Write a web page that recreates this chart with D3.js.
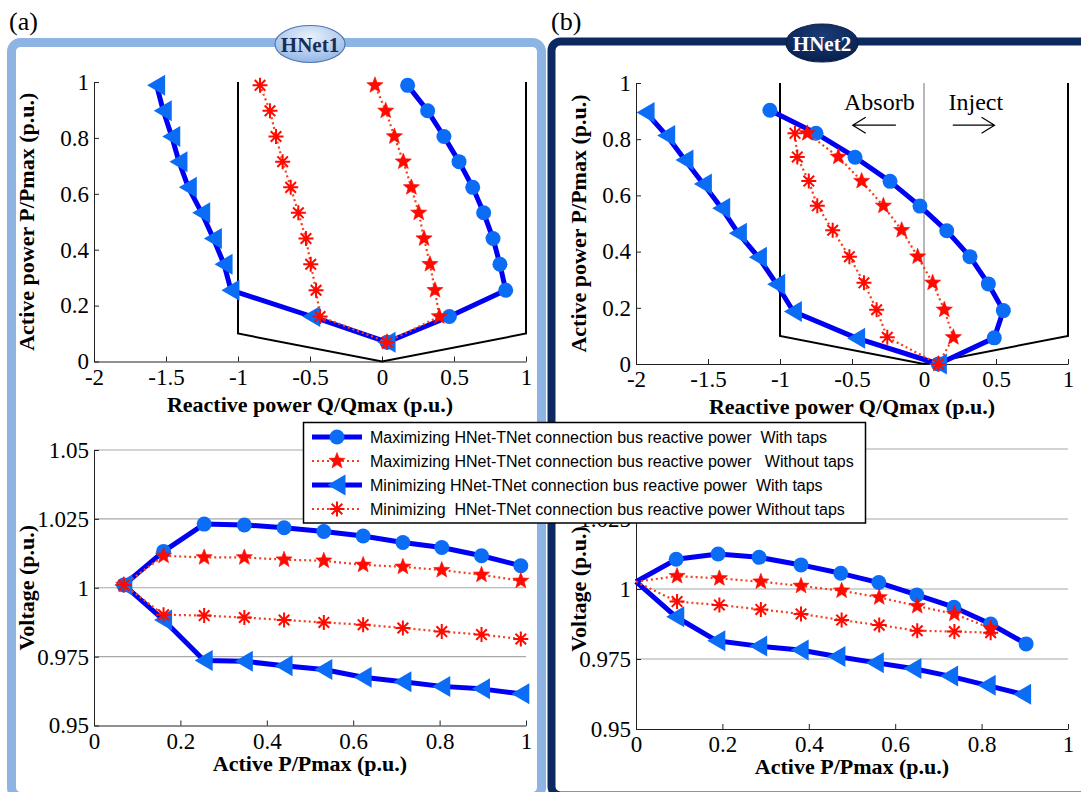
<!DOCTYPE html>
<html>
<head>
<meta charset="utf-8">
<script src="https://cdn.jsdelivr.net/npm/d3@7"></script>
<style>
  body { margin: 0; background: #fff; }
  svg { display: block; }
</style>
</head>
<body>
<svg id="chart" width="1081" height="792"></svg>
<script>
// ---- tick values ----
const qTicks = [-2, -1.5, -1, -0.5, 0, 0.5, 1];
const pTicks = [0, 0.2, 0.4, 0.6, 0.8, 1];
const vTicks = [0.95, 0.975, 1, 1.025, 1.05];

// ---- operating limit boundary (Q, P) ----
const boundQ = [-1, -1, 0, 1, 1];
const boundP = [1, 0.1, 0, 0.1, 1];

// ---- HNet1 ----
const p1 = [0.069, 0.161, 0.255, 0.348, 0.44, 0.532, 0.623, 0.715, 0.805, 0.897, 0.988];
const qMaxTap1 = [0.035, 0.468, 0.859, 0.819, 0.771, 0.706, 0.63, 0.535, 0.43, 0.317, 0.178];
const qMaxNoTap1 = [0.035, 0.398, 0.368, 0.333, 0.292, 0.255, 0.204, 0.148, 0.086, 0.026, -0.049];
const qMinTap1 = [0.035, -0.488, -1.049, -1.097, -1.171, -1.252, -1.345, -1.41, -1.46, -1.519, -1.565];
const qMinNoTap1 = [0.035, -0.43, -0.458, -0.495, -0.528, -0.581, -0.634, -0.69, -0.736, -0.778, -0.847];
const vMaxTap1 = [1.001, 1.0132, 1.0231, 1.0228, 1.0218, 1.0204, 1.0188, 1.0164, 1.0146, 1.0116, 1.008];
const vMaxNoTap1 = [1.001, 1.0116, 1.011, 1.011, 1.0102, 1.0098, 1.0083, 1.0076, 1.0064, 1.0047, 1.0025];
const vMinTap1 = [1.001, 0.9883, 0.9736, 0.9733, 0.9717, 0.9703, 0.9675, 0.9659, 0.9642, 0.9633, 0.9615];
const vMinNoTap1 = [1.001, 0.9902, 0.9899, 0.9892, 0.9883, 0.9874, 0.9866, 0.9854, 0.9841, 0.983, 0.9814];

// ---- HNet2 ----
const pMaxTap2 = [0, 0.093, 0.19, 0.285, 0.382, 0.474, 0.562, 0.65, 0.736, 0.821, 0.903];
const qMaxTap2 = [0.1, 0.488, 0.551, 0.447, 0.319, 0.158, -0.028, -0.236, -0.479, -0.75, -1.07];
const vMaxTap2 = [1.0026, 1.0106, 1.0125, 1.0113, 1.0086, 1.0056, 1.0023, 0.9979, 0.9935, 0.9875, 0.9804];
const pNoTap2 = [0, 0.095, 0.193, 0.289, 0.382, 0.476, 0.563, 0.651, 0.737, 0.821];
const qMaxNoTap2 = [0.1, 0.204, 0.141, 0.06, -0.044, -0.155, -0.282, -0.433, -0.595, -0.81];
const vMaxNoTap2 = [1.0026, 1.0046, 1.0038, 1.0026, 1.0011, 0.9994, 0.997, 0.9939, 0.9911, 0.986];
const qMinNoTap2 = [0.1, -0.255, -0.329, -0.417, -0.518, -0.634, -0.741, -0.8, -0.88, -0.896];
const vMinNoTap2 = [1.0026, 0.9955, 0.9943, 0.9927, 0.9911, 0.9889, 0.9871, 0.9851, 0.9848, 0.9844];
const pMinTap2 = [0, 0.092, 0.187, 0.284, 0.38, 0.465, 0.554, 0.641, 0.726, 0.813, 0.895];
const qMinTap2 = [0.1, -0.468, -0.907, -1.023, -1.15, -1.289, -1.405, -1.532, -1.66, -1.787, -1.93];
const vMinTap2 = [1.0026, 0.9901, 0.9815, 0.9796, 0.9782, 0.9759, 0.9737, 0.9716, 0.9689, 0.9656, 0.9624];

const legendLabels = [
  "Maximizing HNet-TNet connection bus reactive power  With taps",
  "Maximizing HNet-TNet connection bus reactive power   Without taps",
  "Minimizing HNet-TNet connection bus reactive power  With taps",
  "Minimizing  HNet-TNet connection bus reactive power Without taps"
];

const SERIF = '"Liberation Serif", "Times New Roman", Times, serif';
const SANS = '"Liberation Sans", Arial, Helvetica, sans-serif';

const svg = d3.select("#chart");

// ---- marker shapes ----
function starPath(R, r) {
  let s = "";
  for (let i = 0; i < 10; i++) {
    const a = -Math.PI / 2 + i * Math.PI / 5, rr = i % 2 ? r : R;
    s += (i ? "L" : "M") + (rr * Math.cos(a)).toFixed(2) + "," + (rr * Math.sin(a)).toFixed(2);
  }
  return s + "Z";
}
function asteriskPath(R) {
  let s = "";
  for (let i = 0; i < 4; i++) {
    const a = i * Math.PI / 4;
    const dx = R * Math.cos(a), dy = R * Math.sin(a);
    s += `M${(-dx).toFixed(2)},${(-dy).toFixed(2)}L${dx.toFixed(2)},${dy.toFixed(2)}`;
  }
  return s;
}
const circlePath = d3.symbol(d3.symbolCircle, Math.PI * 7.5 * 7.5)();
const triLeftPath = "M-9.5,0L8.5,-10.5L8.5,10.5Z";

const blueLine = "#0000F2", blueMark = "#0B6CF5", redLine = "#F2401C", redMark = "#FF0A00";
const styles = [
  {line: blueLine, lw: 5, dash: null, d: circlePath, fill: blueMark, stroke: "none", sw: 0},
  {line: redLine, lw: 2.2, dash: "2,3", d: starPath(8.5, 3.6), fill: redMark, stroke: redMark, sw: 0.6},
  {line: blueLine, lw: 5, dash: null, d: triLeftPath, fill: blueMark, stroke: "none", sw: 0},
  {line: redLine, lw: 2.2, dash: "2,3", d: asteriskPath(7.5), fill: "none", stroke: redMark, sw: 2}
];

function drawSeries(g, x, y, xs, ys, st, markerOk) {
  const pts = xs.map((d, i) => [d, ys[i]]);
  g.append("path").datum(pts)
    .attr("d", d3.line().x(d => x(d[0])).y(d => y(d[1])))
    .attr("fill", "none").attr("stroke", st.line).attr("stroke-width", st.lw)
    .attr("stroke-dasharray", st.dash).attr("stroke-linejoin", "round");
  g.selectAll(null).data(pts.filter(markerOk || (() => true))).join("path")
    .attr("transform", d => `translate(${x(d[0])},${y(d[1])})`)
    .attr("d", st.d).attr("fill", st.fill)
    .attr("stroke", st.stroke).attr("stroke-width", st.sw);
}

function drawAxes(g, x, y, xt, yt) {
  const ax = g.append("g").attr("transform", `translate(0,${y.range()[0]})`)
    .call(d3.axisBottom(x).tickValues(xt).tickSize(-5).tickSizeOuter(0).tickPadding(7).tickFormat(d => String(d)));
  const ay = g.append("g").attr("transform", `translate(${x.range()[0]},0)`)
    .call(d3.axisLeft(y).tickValues(yt).tickSize(-5).tickSizeOuter(0).tickPadding(5).tickFormat(d => String(d)));
  [ax, ay].forEach(a => {
    a.attr("font-family", null).attr("font-size", null);
    a.selectAll("text").style("font-family", SERIF).style("font-size", "23px").attr("fill", "#000");
    a.selectAll("line, path").attr("stroke", "#222");
  });
}

function axisLabels(g, x, y, xl, yl, xBase, yBase) {
  const xr = x.range(), yr = y.range();
  g.append("text").attr("x", (xr[0] + xr[1]) / 2).attr("y", xBase)
    .attr("text-anchor", "middle").style("font-family", SERIF).style("font-weight", "bold")
    .style("font-size", "22px").text(xl);
  g.append("text").attr("transform", `translate(${yBase},${(yr[0] + yr[1]) / 2}) rotate(-90)`)
    .attr("text-anchor", "middle").style("font-family", SERIF).style("font-weight", "bold")
    .style("font-size", "22px").text(yl);
}

// ---- frames ----
svg.append("rect").attr("x", 11.5).attr("y", 42.5).attr("width", 530).attr("height", 754).attr("rx", 9)
  .attr("fill", "none").attr("stroke", "#8DB4E2").attr("stroke-width", 9);
svg.append("rect").attr("x", 551.5).attr("y", 41.5).attr("width", 560).attr("height", 754).attr("rx", 9)
  .attr("fill", "none").attr("stroke", "#0D2A60").attr("stroke-width", 8);

// ---- PQ plots ----
function pqPlot(x0, x1, y0, y1, series, withMid, labelX) {
  const g = svg.append("g");
  const x = d3.scaleLinear().domain([-2, 1]).range([x0, x1]);
  const y = d3.scaleLinear().domain([0, 1]).range([y0, y1]);
  drawAxes(g, x, y, qTicks, pTicks);
  if (withMid) {
    g.append("line").attr("x1", x(0)).attr("x2", x(0)).attr("y1", y(0)).attr("y2", y(1))
      .attr("stroke", "#A0A0A0").attr("stroke-width", 1.5);
  }
  g.append("path").datum(boundQ.map((d, i) => [d, boundP[i]]))
    .attr("d", d3.line().x(d => x(d[0])).y(d => y(d[1])))
    .attr("fill", "none").attr("stroke", "#000").attr("stroke-width", 2);
  series.forEach((s, i) => drawSeries(g, x, y, s[0], s[1], styles[i]));
  axisLabels(g, x, y, "Reactive power Q/Qmax (p.u.)", "Active power P/Pmax (p.u.)", y0 + 50, labelX);
  return {g, x, y};
}

pqPlot(94, 526, 361.5, 82, [
  [qMaxTap1, p1], [qMaxNoTap1, p1], [qMinTap1, p1], [qMinNoTap1, p1]
], false, 34);

const tr = pqPlot(636, 1068, 364, 83, [
  [qMaxTap2, pMaxTap2], [qMaxNoTap2, pNoTap2], [qMinTap2, pMinTap2], [qMinNoTap2, pNoTap2]
], true, 586);

// absorb / inject annotation
tr.g.append("text").attr("x", tr.x(-0.31)).attr("y", tr.y(0.905)).attr("text-anchor", "middle")
  .style("font-family", SERIF).style("font-size", "24px").text("Absorb");
tr.g.append("text").attr("x", tr.x(0.36)).attr("y", tr.y(0.905)).attr("text-anchor", "middle")
  .style("font-family", SERIF).style("font-size", "24px").text("Inject");
function arrow(g, xa, xb, yy, dir) {
  const tip = dir < 0 ? xa : xb;
  g.append("path")
    .attr("d", `M${xa},${yy}L${xb},${yy}M${tip - dir * 13},${yy - 8}L${tip},${yy}L${tip - dir * 13},${yy + 8}`)
    .attr("fill", "none").attr("stroke", "#000").attr("stroke-width", 1.2);
}
arrow(tr.g, tr.x(-0.495), tr.x(-0.195), tr.y(0.85), -1);
arrow(tr.g, tr.x(0.2), tr.x(0.49), tr.y(0.85), 1);

// ---- voltage plots ----
function vPlot(x0, x1, y0, y1, series, labelX, xBase) {
  const g = svg.append("g");
  const x = d3.scaleLinear().domain([0, 1]).range([x0, x1]);
  const y = d3.scaleLinear().domain([0.95, 1.05]).range([y0, y1]);
  g.selectAll(null).data(vTicks.slice(1)).join("line")
    .attr("x1", x0).attr("x2", x1).attr("y1", d => y(d)).attr("y2", d => y(d))
    .attr("stroke", "#A8A8A8").attr("stroke-width", 1.2);
  drawAxes(g, x, y, pTicks, vTicks);
  series.forEach((s, i) => drawSeries(g, x, y, s[0], s[1], styles[i], d => d[0] > 0));
  axisLabels(g, x, y, "Active P/Pmax (p.u.)", "Voltage (p.u.)", xBase, labelX);
}

vPlot(94, 526, 725.5, 450, [
  [p1, vMaxTap1], [p1, vMaxNoTap1], [p1, vMinTap1], [p1, vMinNoTap1]
], 34, 771);

vPlot(636, 1068, 729, 449, [
  [pMaxTap2, vMaxTap2], [pNoTap2, vMaxNoTap2], [pMinTap2, vMinTap2], [pNoTap2, vMinNoTap2]
], 586, 774);

// ---- legend ----
const lg = svg.append("g");
lg.append("rect").attr("x", 303.5).attr("y", 422.5).attr("width", 562).attr("height", 100.5)
  .attr("fill", "#fff").attr("stroke", "#000").attr("stroke-width", 1.5);
const rowY = [437, 461, 485, 509];
legendLabels.forEach((t, i) => {
  const st = styles[i];
  lg.append("line").attr("x1", 312).attr("x2", 362).attr("y1", rowY[i]).attr("y2", rowY[i])
    .attr("stroke", st.line).attr("stroke-width", st.lw).attr("stroke-dasharray", st.dash);
  lg.append("path").attr("transform", `translate(337,${rowY[i]})`).attr("d", st.d)
    .attr("fill", st.fill).attr("stroke", st.stroke).attr("stroke-width", st.sw);
  lg.append("text").attr("x", 370).attr("y", rowY[i]).attr("dy", "0.36em")
    .style("font-family", SANS).style("font-size", "16px")
    .style("white-space", "pre").text(t);
});

// ---- panel tags ----
const defs = svg.append("defs");
const g1 = defs.append("radialGradient").attr("id", "gBlue1").attr("cx", "50%").attr("cy", "30%").attr("r", "70%");
g1.append("stop").attr("offset", "0%").attr("stop-color", "#EAF1FB");
g1.append("stop").attr("offset", "100%").attr("stop-color", "#93B7E6");
const g2 = defs.append("radialGradient").attr("id", "gBlue2").attr("cx", "50%").attr("cy", "30%").attr("r", "70%");
g2.append("stop").attr("offset", "0%").attr("stop-color", "#1B3C75");
g2.append("stop").attr("offset", "100%").attr("stop-color", "#08204F");

svg.append("ellipse").attr("cx", 310).attr("cy", 44).attr("rx", 35).attr("ry", 18.5)
  .attr("fill", "url(#gBlue1)").attr("stroke", "#4F76AE").attr("stroke-width", 1.2);
svg.append("text").attr("x", 310).attr("y", 51.5).attr("text-anchor", "middle")
  .style("font-family", SERIF).style("font-weight", "bold").style("font-size", "21px")
  .attr("fill", "#1A2E55").text("HNet1");
svg.append("ellipse").attr("cx", 822).attr("cy", 43).attr("rx", 36).attr("ry", 19)
  .attr("fill", "url(#gBlue2)").attr("stroke", "#0A1E4A").attr("stroke-width", 1.2);
svg.append("text").attr("x", 822).attr("y", 50.5).attr("text-anchor", "middle")
  .style("font-family", SERIF).style("font-weight", "bold").style("font-size", "21px")
  .attr("fill", "#fff").text("HNet2");

svg.append("text").attr("x", 9).attr("y", 30).style("font-family", SERIF).style("font-size", "26px").text("(a)");
svg.append("text").attr("x", 551).attr("y", 30).style("font-family", SERIF).style("font-size", "26px").text("(b)");
</script>
</body>
</html>
